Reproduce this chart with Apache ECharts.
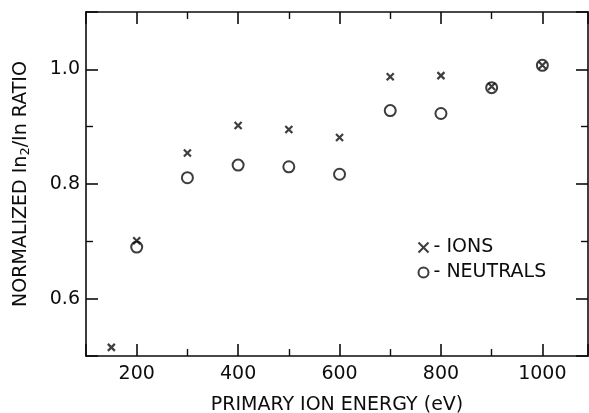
<!DOCTYPE html>
<html>
<head>
<meta charset="utf-8">
<script src="https://cdn.jsdelivr.net/npm/echarts@6/dist/echarts.min.js"></script>
<style>
  html, body { margin: 0; padding: 0; background: #fff; }
  #chart { width: 589px; height: 413px; }
</style>
</head>
<body>
<div id="chart"></div>
<script>
// data
const ionEnergy = [150, 200, 300, 400, 500, 600, 700, 800, 900, 1000]
const ionRatio = [0.515, 0.701, 0.854, 0.902, 0.895, 0.881, 0.987, 0.989, 0.970, 1.007]
const neutralEnergy = [200, 300, 400, 500, 600, 700, 800, 900, 1000]
const neutralRatio = [0.690, 0.811, 0.833, 0.830, 0.817, 0.928, 0.923, 0.968, 1.007]

const xLabels = [200, 400, 600, 800, 1000]
const yLabels = [0.6, 0.8, 1.0]

const FONT = 'DejaVu Sans'
const INK = '#0d0d0d'
const crossPath = 'path://M0,0L10,10M10,0L0,10'

const pairs = (xs, ys) => xs.map((x, i) => [x, ys[i]])

const frameAxis = {
  axisLine: { show: true, onZero: false, lineStyle: { color: INK, width: 1.6 } },
  axisTick: { show: true, inside: true, length: 12, lineStyle: { color: INK, width: 1.6 } },
  minorTick: { show: true, splitNumber: 2, length: 7, lineStyle: { color: INK, width: 1.4 } },
  splitLine: { show: false },
  minorSplitLine: { show: false },
}

const xBase = { type: 'value', min: 100, max: 1090, splitNumber: 5 }
const yBase = { type: 'value', min: 0.5, max: 1.1, splitNumber: 3 }

const chart = echarts.init(document.getElementById('chart'))
chart.setOption({
  animation: false,
  textStyle: { fontFamily: FONT, color: INK },
  grid: { left: 86, right: 1, top: 12, bottom: 57, containLabel: false, outerBoundsMode: 'none' },
  legend: {
    orient: 'vertical',
    left: 411,
    top: 233,
    itemWidth: 10,
    itemHeight: 10,
    itemGap: 6,
    textStyle: { fontFamily: FONT, fontSize: 19, color: INK },
    formatter: name => '- ' + name,
    selectedMode: false,
  },
  xAxis: [
    {
      ...xBase,
      ...frameAxis,
      position: 'bottom',
      name: 'PRIMARY ION ENERGY (eV)',
      nameLocation: 'middle',
      nameGap: 40,
      nameTextStyle: { fontFamily: FONT, fontSize: 19, color: INK },
      axisLabel: {
        margin: 9,
        fontFamily: FONT,
        fontSize: 19,
        color: INK,
        formatter: v => (xLabels.includes(v) ? String(v) : ''),
      },
    },
    {
      ...xBase,
      ...frameAxis,
      position: 'top',
      axisLabel: { show: false },
    },
  ],
  yAxis: [
    {
      ...yBase,
      ...frameAxis,
      position: 'left',
      name: '{t|NORMALIZED In}{s|2}{t|/In RATIO}',
      nameLocation: 'middle',
      nameGap: 54,
      nameTextStyle: {
        rich: {
          t: { fontFamily: FONT, fontSize: 19, color: INK },
          s: { fontFamily: FONT, fontSize: 13, color: INK, padding: [9, 0, 0, 0] },
        },
      },
      axisLabel: {
        margin: 6,
        fontFamily: FONT,
        fontSize: 19,
        color: INK,
        formatter: v => (yLabels.some(l => Math.abs(l - v) < 1e-9) ? v.toFixed(1) : ''),
      },
    },
    {
      ...yBase,
      ...frameAxis,
      position: 'right',
      axisLabel: { show: false },
    },
  ],
  series: [
    {
      name: 'IONS',
      type: 'scatter',
      data: pairs(ionEnergy, ionRatio),
      symbol: crossPath,
      symbolSize: 7,
      itemStyle: { color: 'none', borderColor: INK, borderWidth: 2.2 },
      z: 3,
    },
    {
      name: 'NEUTRALS',
      type: 'scatter',
      data: pairs(neutralEnergy, neutralRatio),
      symbol: 'circle',
      symbolSize: 11,
      itemStyle: { color: 'rgba(255,255,255,0)', borderColor: INK, borderWidth: 2 },
      z: 2,
    },
  ],
})
</script>
</body>
</html>
